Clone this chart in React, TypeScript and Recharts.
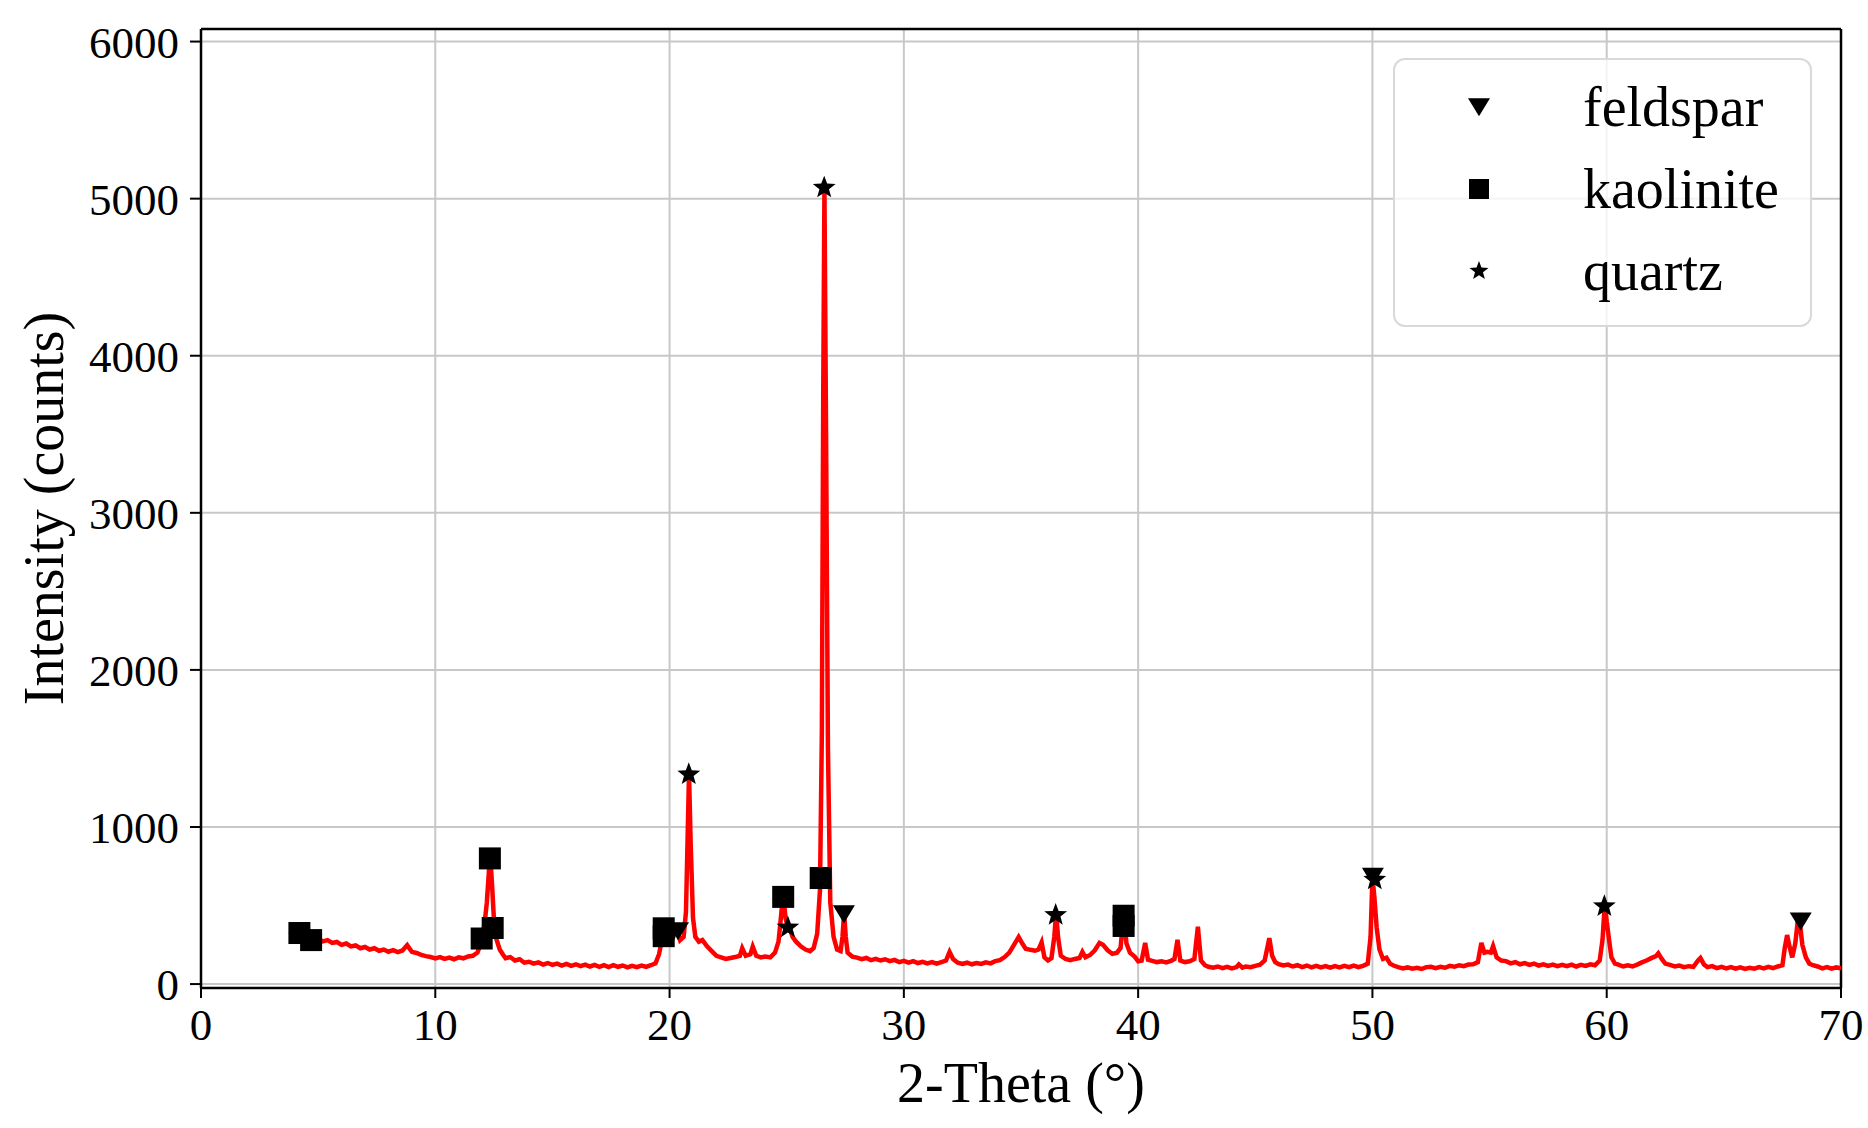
import React from "react";
import {
  ComposedChart,
  Line,
  Scatter,
  XAxis,
  YAxis,
  CartesianGrid,
  ReferenceLine,
  Label,
} from "recharts";

// XRD pattern, [2-theta, counts]
const lowAngle: [number, number][] = [
  [3.8, 335], [3.9, 318], [4.0, 328], [4.1, 312], [4.2, 334], [4.3, 308], [4.4, 318], [4.5, 300],
  [4.6, 306], [4.7, 290], [4.8, 298], [4.9, 284], [5.0, 290], [5.2, 272], [5.4, 280], [5.6, 262],
  [5.8, 268], [6.0, 250], [6.2, 258], [6.4, 240], [6.6, 246], [6.8, 228], [7.0, 236], [7.2, 220],
  [7.4, 228], [7.6, 212], [7.8, 220], [8.0, 206], [8.2, 216], [8.4, 204], [8.6, 214], [8.8, 248],
  [8.9, 226], [9.0, 205], [9.2, 198], [9.4, 186], [9.6, 178], [9.8, 172], [10.0, 164], [10.2, 172],
  [10.4, 160], [10.6, 168], [10.8, 158], [11.0, 170], [11.2, 164], [11.4, 176], [11.6, 180], [11.8, 200],
  [11.95, 260], [12.1, 380], [12.2, 520], [12.3, 740], [12.35, 800], [12.42, 640], [12.5, 420], [12.6, 290],
  [12.75, 220], [12.9, 185], [13.0, 165], [13.2, 172], [13.4, 150], [13.6, 158], [13.8, 136], [14.0, 142],
];

const midAngle1: [number, number][] = [
  [14.2, 130], [14.4, 138], [14.6, 124], [14.8, 134], [15.0, 122], [15.2, 130], [15.4, 118], [15.6, 128],
  [15.8, 116], [16.0, 126], [16.2, 114], [16.4, 124], [16.6, 112], [16.8, 122], [17.0, 110], [17.2, 120],
  [17.4, 108], [17.6, 120], [17.8, 110], [18.0, 118], [18.2, 106], [18.4, 116], [18.6, 108], [18.8, 118],
  [19.0, 110], [19.2, 120], [19.4, 132], [19.55, 190], [19.7, 300], [19.85, 372], [19.95, 300], [20.05, 270],
  [20.2, 312], [20.35, 330], [20.45, 280], [20.6, 300], [20.7, 460], [20.78, 1000], [20.83, 1338], [20.9, 900],
  [21.0, 420], [21.1, 300], [21.25, 270], [21.4, 280], [21.6, 240], [21.8, 210], [22.0, 180], [22.2, 170],
  [22.4, 160], [22.6, 166], [22.8, 172], [23.0, 180], [23.1, 228], [23.25, 180], [23.45, 190], [23.55, 238],
  [23.7, 180], [23.9, 170], [24.1, 176], [24.3, 170], [24.5, 200], [24.65, 270], [24.75, 420], [24.85, 575],
  [24.95, 420], [25.05, 360], [25.15, 345], [25.25, 300], [25.4, 270], [25.6, 240], [25.8, 220], [26.0, 210],
  [26.15, 230], [26.3, 320], [26.42, 600], [26.5, 1600], [26.56, 3800], [26.61, 5070], [26.68, 3500], [26.76, 1500],
  [26.86, 520], [27.0, 300], [27.15, 220], [27.3, 210], [27.38, 300], [27.45, 455], [27.52, 300], [27.6, 200],
  [27.8, 175], [28.0, 168],
];

const midAngle2: [number, number][] = [
  [28.2, 158], [28.4, 166], [28.6, 152], [28.8, 160], [29.0, 150], [29.2, 158], [29.4, 146], [29.6, 154],
  [29.8, 140], [30.0, 148], [30.2, 136], [30.4, 146], [30.6, 134], [30.8, 142], [31.0, 132], [31.2, 140],
  [31.4, 130], [31.6, 140], [31.8, 150], [31.95, 205], [32.1, 160], [32.3, 136], [32.5, 128], [32.7, 136],
  [32.9, 126], [33.1, 134], [33.3, 128], [33.5, 138], [33.7, 132], [33.9, 146], [34.1, 152], [34.3, 172],
  [34.5, 200], [34.7, 250], [34.9, 300], [35.05, 260], [35.2, 225], [35.4, 218], [35.6, 212], [35.75, 220],
  [35.88, 265], [36.0, 170], [36.15, 150], [36.3, 165], [36.42, 300], [36.5, 455], [36.58, 300], [36.7, 180],
  [36.9, 160], [37.1, 152], [37.3, 160], [37.5, 166], [37.62, 205], [37.75, 170], [37.95, 185], [38.15, 215],
  [38.35, 262], [38.5, 250], [38.7, 215], [38.9, 192], [39.1, 200], [39.25, 230], [39.38, 445], [39.5, 260],
  [39.65, 200], [39.85, 175], [40.0, 145], [40.15, 150], [40.3, 262], [40.42, 155], [40.6, 148], [40.8, 140],
  [41.0, 145], [41.2, 138], [41.4, 148], [41.55, 160], [41.68, 282], [41.8, 150], [42.0, 140], [42.2, 145],
  [42.4, 160], [42.55, 365], [42.68, 150], [42.85, 120], [43.0, 110], [43.2, 104], [43.4, 112], [43.6, 102],
  [43.8, 110], [44.0, 100], [44.2, 108], [44.3, 125], [44.45, 104], [44.6, 112], [44.8, 108], [45.0, 116],
  [45.2, 124], [45.4, 150], [45.6, 292], [45.72, 180], [45.85, 140], [46.0, 126],
];

const highAngle: [number, number][] = [
  [46.2, 118], [46.4, 124], [46.6, 112], [46.8, 120], [47.0, 108], [47.2, 118], [47.4, 106], [47.6, 116],
  [47.8, 106], [48.0, 114], [48.2, 104], [48.4, 114], [48.6, 106], [48.8, 116], [49.0, 108], [49.2, 118],
  [49.4, 108], [49.6, 116], [49.8, 130], [49.92, 300], [50.0, 680], [50.08, 560], [50.18, 360], [50.3, 220],
  [50.45, 160], [50.6, 168], [50.75, 130], [50.9, 118], [51.1, 108], [51.3, 100], [51.5, 106], [51.7, 98],
  [51.9, 104], [52.1, 96], [52.3, 108], [52.5, 110], [52.7, 102], [52.9, 110], [53.1, 104], [53.3, 116],
  [53.5, 110], [53.7, 120], [53.9, 114], [54.1, 124], [54.3, 126], [54.5, 140], [54.65, 262], [54.78, 200],
  [54.9, 205], [55.05, 200], [55.15, 242], [55.3, 170], [55.5, 150], [55.7, 146], [55.9, 132], [56.1, 140],
  [56.3, 126], [56.5, 134], [56.7, 122], [56.9, 130], [57.1, 118], [57.3, 126], [57.5, 116], [57.7, 124],
  [57.9, 114], [58.1, 122], [58.3, 114], [58.5, 124], [58.7, 112], [58.9, 122], [59.1, 116], [59.3, 126],
  [59.5, 120], [59.7, 150], [59.82, 280], [59.92, 515], [60.0, 400], [60.1, 282], [60.2, 170], [60.35, 130],
  [60.5, 124], [60.7, 112], [60.9, 120], [61.1, 112], [61.3, 124], [61.5, 138], [61.7, 150], [61.9, 165],
  [62.1, 178], [62.2, 196], [62.35, 160], [62.5, 130], [62.7, 122], [62.9, 112], [63.1, 118], [63.3, 108],
  [63.5, 114], [63.7, 110], [63.9, 150], [64.0, 166], [64.15, 125], [64.3, 108], [64.5, 114], [64.7, 102],
  [64.9, 110], [65.1, 100], [65.3, 108], [65.5, 98], [65.7, 106], [65.9, 96], [66.1, 104], [66.3, 98],
  [66.5, 108], [66.7, 100], [66.9, 110], [67.1, 102], [67.3, 112], [67.5, 120], [67.6, 230], [67.7, 312],
  [67.8, 240], [67.92, 170], [68.05, 260], [68.15, 395], [68.25, 380], [68.35, 250], [68.5, 170], [68.65, 130],
  [68.8, 120], [69.0, 112], [69.2, 100], [69.4, 108], [69.6, 98], [69.8, 106], [70.0, 100],
];

// phase markers, [2-theta, counts]
const feldspar: [number, number][] = [
  [20.36, 338], [27.44, 445], [50.02, 685], [68.28, 400],
];
const kaolinite: [number, number][] = [
  [4.2, 325], [4.7, 280], [11.98, 290], [12.45, 357], [12.33, 800], [19.75, 355], [19.75, 305],
  [24.85, 555], [26.45, 675], [39.38, 435], [39.38, 370],
];
const quartz: [number, number][] = [
  [20.82, 1335], [25.05, 360], [26.6, 5070], [36.48, 440], [50.1, 665], [59.9, 495],
];

const xTicks = [0, 10, 20, 30, 40, 50, 60, 70];
const yTicks = [0, 1000, 2000, 3000, 4000, 5000, 6000];

const FONT = '"Liberation Serif", "Times New Roman", serif';

const toPts = (arr: [number, number][]) => arr.map(([x, y]) => ({ x, y }));
const pattern = toPts([...lowAngle, ...midAngle1, ...midAngle2, ...highAngle]);

function TriDown({ cx, cy, s = 11 }: any) {
  return (
    <polygon
      points={`${cx - s},${cy - s * 0.8} ${cx + s},${cy - s * 0.8} ${cx},${cy + s * 0.85}`}
      fill="#000"
    />
  );
}

function Square({ cx, cy, s = 11 }: any) {
  return <rect x={cx - s} y={cy - s} width={2 * s} height={2 * s} fill="#000" />;
}

function Star({ cx, cy, s = 11 }: any) {
  const pts: string[] = [];
  for (let i = 0; i < 10; i++) {
    const r = i % 2 === 0 ? s : s * 0.42;
    const a = -Math.PI / 2 + (i * Math.PI) / 5;
    pts.push(`${cx + r * Math.cos(a)},${cy + r * Math.sin(a)}`);
  }
  return <polygon points={pts.join(" ")} fill="#000" />;
}

function LegendBox() {
  const rows = [
    { name: "feldspar", Shape: TriDown, s: 11 },
    { name: "kaolinite", Shape: Square, s: 10 },
    { name: "quartz", Shape: Star, s: 10 },
  ];
  return (
    <div
      style={{
        position: "absolute",
        left: 1393,
        top: 58,
        width: 419,
        height: 269,
        boxSizing: "border-box",
        border: "2px solid #d9d9d9",
        borderRadius: 12,
        background: "rgba(255,255,255,0.8)",
      }}
    >
      {rows.map((r, i) => (
        <div
          key={r.name}
          style={{
            position: "absolute",
            left: 0,
            top: 17 + i * 82,
            height: 60,
            display: "flex",
            alignItems: "center",
          }}
        >
          <svg width={170} height={60} style={{ display: "block" }}>
            <r.Shape cx={84} cy={30} s={r.s} />
          </svg>
          <span style={{ fontFamily: FONT, fontSize: 56, color: "#000", lineHeight: "60px", marginLeft: 18 }}>
            {r.name}
          </span>
        </div>
      ))}
    </div>
  );
}

export default function App() {
  return (
    <div style={{ position: "absolute", left: 0, top: 0, width: 1868, height: 1128, background: "#fff" }}>
      <ComposedChart
        width={1868}
        height={1128}
        margin={{ top: 29, right: 27, left: 0, bottom: 0 }}
      >
        <CartesianGrid stroke="#c8c8c8" strokeWidth={2} />
        <XAxis
          type="number"
          dataKey="x"
          domain={[0, 70]}
          ticks={xTicks}
          allowDataOverflow
          height={140}
          tickSize={10}
          tickMargin={10}
          axisLine={{ stroke: "#000", strokeWidth: 2.5 }}
          tickLine={{ stroke: "#000", strokeWidth: 2 }}
          tick={{ fontSize: 45, fill: "#000", fontFamily: FONT }}
        >
          <Label
            content={(p: any) => {
              const vb = p.viewBox || {};
              return (
                <text
                  x={vb.x + vb.width / 2}
                  y={vb.y + 114}
                  textAnchor="middle"
                  style={{ fontSize: 56, fontFamily: FONT, fill: "#000" }}
                >
                  2-Theta (°)
                </text>
              );
            }}
          />
        </XAxis>
        <YAxis
          type="number"
          domain={[-25, 6080]}
          ticks={yTicks}
          allowDataOverflow
          width={201}
          tickSize={11}
          tickMargin={11}
          axisLine={{ stroke: "#000", strokeWidth: 2.5 }}
          tickLine={{ stroke: "#000", strokeWidth: 2 }}
          tick={{ fontSize: 45, fill: "#000", fontFamily: FONT }}
        >
          <Label
            content={(p: any) => {
              const vb = p.viewBox || {};
              const cy = vb.y + vb.height / 2;
              return (
                <text
                  x={44}
                  y={cy}
                  transform={`rotate(-90, 44, ${cy})`}
                  textAnchor="middle"
                  dominantBaseline="central"
                  style={{ fontSize: 56, fontFamily: FONT, fill: "#000" }}
                >
                  Intensity (counts)
                </text>
              );
            }}
          />
        </YAxis>
        <ReferenceLine x={70} stroke="#000" strokeWidth={2.5} />
        <ReferenceLine y={6080} stroke="#000" strokeWidth={2.5} />
        <Scatter
          data={toPts(feldspar)}
          dataKey="y"
          isAnimationActive={false}
          shape={(p: any) => <TriDown cx={p.cx} cy={p.cy} s={11} />}
        />
        <Scatter
          data={toPts(kaolinite)}
          dataKey="y"
          isAnimationActive={false}
          shape={(p: any) => <Square cx={p.cx} cy={p.cy} s={11} />}
        />
        <Scatter
          data={toPts(quartz)}
          dataKey="y"
          isAnimationActive={false}
          shape={(p: any) => <Star cx={p.cx} cy={p.cy} s={12} />}
        />
        <Line
          data={pattern}
          dataKey="y"
          type="linear"
          stroke="#ff0000"
          strokeWidth={4.5}
          dot={false}
          isAnimationActive={false}
        />
      </ComposedChart>
      <LegendBox />
    </div>
  );
}
